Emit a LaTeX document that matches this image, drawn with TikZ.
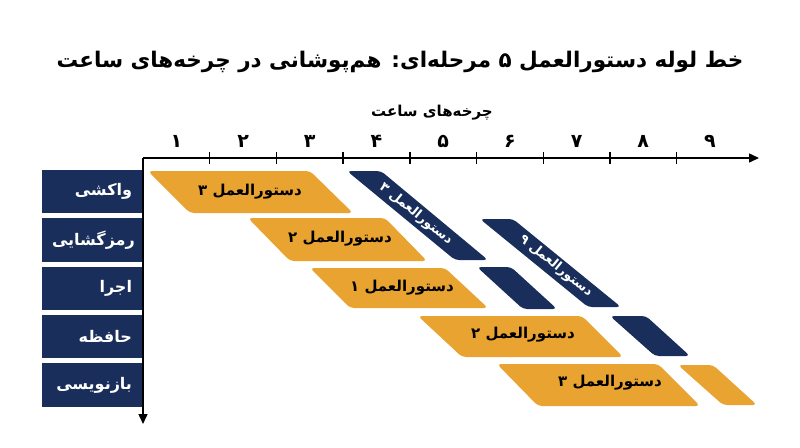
\documentclass[tikz,border=0pt]{standalone}
\usepackage{fontspec}
\newfontfamily\fa[Script=Arabic]{DejaVu Sans}
\TeXXeTstate=1
\usetikzlibrary{arrows.meta}
\definecolor{navy}{RGB}{26,46,92}
\definecolor{gold}{RGB}{232,163,48}
\newcommand\fatext[1]{\fa\bfseries\beginR #1\endR}
% color, top-left x, top-right x, top y, bottom-left x, bottom-right x, bottom y
\newcommand\band[7]{\fill[#1,rounded corners=4pt] (#2,#4) -- (#3,#4) -- (#6,#7) -- (#5,#7) -- cycle;}
\tikzset{
  titletext/.style={font=\fontsize{21.5}{24}\selectfont, text=black, inner sep=0pt},
  subtitle/.style={font=\fontsize{15}{18}\selectfont, text=black, inner sep=0pt},
  num/.style={font=\fontsize{19}{21}\selectfont, text=black, inner sep=0pt},
  stage/.style={fill=navy, text=white, minimum height=43.3pt, text width=80pt, inner xsep=10pt, inner ysep=0pt, align=right, font=\fontsize{16}{18}\selectfont},
  otext/.style={text=black, inner sep=0pt, font=\fontsize{15}{18}\selectfont},
  ntext/.style={text=white, inner sep=0pt, font=\fontsize{13}{16}\selectfont},
  axisline/.style={line width=1.4pt, black},
  axis/.style={axisline, -{Triangle[length=10pt,width=9pt]}},
}
\begin{document}
\begin{tikzpicture}[x=1pt,y=-1pt]
\useasboundingbox (0,0) rectangle (800,447);
\node[titletext] (title) at (400,62) {\fatext{خط لوله دستورالعمل ۵ مرحله^^^^200cای: هم^^^^200cپوشانی در چرخه^^^^200cهای ساعت}};
\node[subtitle] (sub) at (432,113) {\fatext{چرخه^^^^200cهای ساعت}};
% stage boxes
\node[stage] (s1) at (92,191.7) {\fatext{واکشی}};
\node[stage] (s2) at (92,240.0) {\fatext{رمزگشایی}};
\node[stage] (s3) at (92,288.3) {\fatext{اجرا}};
\node[stage] (s4) at (92,336.7) {\fatext{حافظه}};
\node[stage] (s5) at (92,385.0) {\fatext{بازنویسی}};
% gold bands
\band{gold}{148}{310}{171}{190}{353}{213}
\band{gold}{248}{385}{218}{290}{427}{261}
\band{gold}{310}{445}{268}{350}{488}{308}
\band{gold}{418}{582}{316}{462}{623}{357}
\band{gold}{497}{658}{364}{538}{700}{406}
\band{gold}{678}{713}{365}{723}{757}{405}
% navy bands
\band{navy}{347}{381}{171}{455}{488}{260}
\band{navy}{480}{513}{219}{588}{621}{307}
\band{navy}{477}{511}{267}{523}{557}{309}
\band{navy}{610}{646}{316}{655}{690}{356}
% band texts
\node[otext] (o1) at (250,192) {\fatext{دستورالعمل ۳}};
\node[otext] (o2) at (340,239) {\fatext{دستورالعمل ۲}};
\node[otext] (o3) at (402,288) {\fatext{دستورالعمل ۱}};
\node[otext] (o4) at (523,335) {\fatext{دستورالعمل ۲}};
\node[otext] (o5) at (610,383) {\fatext{دستورالعمل ۳}};
\node[ntext, rotate=-39] (n1) at (416,214) {\fatext{دستورالعمل ۳}};
\node[ntext, rotate=-39] (n2) at (556,266) {\fatext{دستورالعمل ۹}};
% axes
\coordinate (origin) at (143,158);
\coordinate (xend) at (759,158);
\coordinate (yend) at (143,424);
\draw[axis] (origin) -- (xend);
\draw[axis] (origin) -- (yend);
\foreach \k in {1,...,8} {
  \coordinate (t\k a) at ({143+66.7*\k},152);
  \coordinate (t\k b) at ({143+66.7*\k},164);
  \draw[axisline] (t\k a) -- (t\k b);
}
\foreach \k/\d in {1/۱,2/۲,3/۳,4/۴,5/۵,6/۶,7/۷,8/۸,9/۹} {
  \node[num] (c\k) at ({143+66.7*(\k-0.5)},141) {\fa\bfseries \d};
}
\end{tikzpicture}
\end{document}
